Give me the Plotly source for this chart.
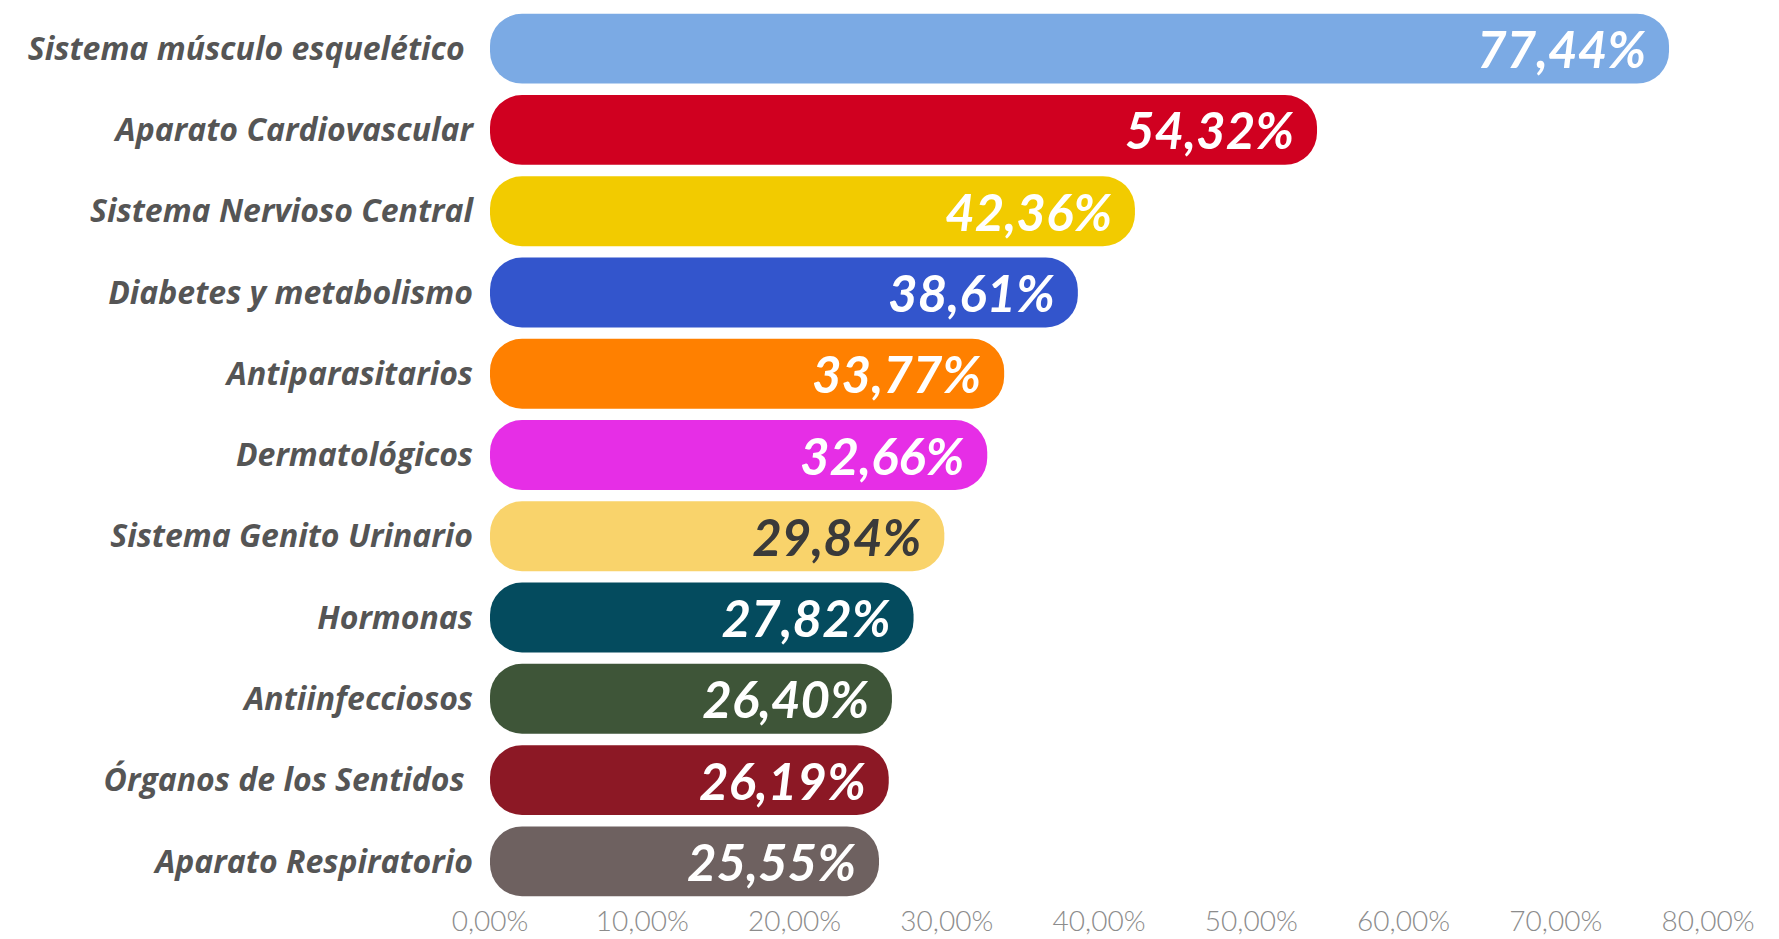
import plotly.graph_objects as go

categories = [
    "Sistema músculo esquelético ",
    "Aparato Cardiovascular",
    "Sistema Nervioso Central",
    "Diabetes y metabolismo",
    "Antiparasitarios",
    "Dermatológicos",
    "Sistema Genito Urinario",
    "Hormonas",
    "Antiinfecciosos",
    "Órganos de los Sentidos ",
    "Aparato Respiratorio",
]
values = [77.44, 54.32, 42.36, 38.61, 33.77, 32.66, 29.84, 27.82, 26.40, 26.19, 25.55]
colors = ["#7BAAE4", "#D00020", "#F2CB00", "#3355CC", "#FF8000", "#E62EE6",
          "#F9D36B", "#044B5E", "#3E5538", "#8C1825", "#6E6160"]
text_colors = ["#FFFFFF"] * 6 + ["#3A3A3A"] + ["#FFFFFF"] * 4
labels = [f"{v:.2f}%".replace(".", ",") for v in values]
x_ticks = [0, 10, 20, 30, 40, 50, 60, 70, 80]
x_tick_text = [f"{t:.2f}%".replace(".", ",") for t in x_ticks]

fig = go.Figure()
# an explicit base makes plotly round both ends of each bar (pill shape)
fig.add_trace(go.Bar(
    y=categories, x=values, base=[0] * len(values), orientation="h",
    marker=dict(color=colors, cornerradius=32, line=dict(width=0)),
    text=labels, textposition="inside", insidetextanchor="end", textangle=0,
    textfont=dict(family="Lato", size=51, color=text_colors, weight="bold", style="italic"),
    hoverinfo="skip", showlegend=False,
))

fig.update_layout(
    width=1779, height=939,
    margin=dict(l=482, r=79, t=0, b=45),
    bargap=0.14,
    paper_bgcolor="white", plot_bgcolor="white",
    xaxis=dict(range=[0, 80], tickvals=x_ticks, ticktext=x_tick_text,
               showgrid=False, zeroline=False, showline=False, ticks="",
               tickfont=dict(family="Lato", size=28, color="#8C8C8C", weight=300)),
    yaxis=dict(autorange="reversed", showgrid=False, zeroline=False, showline=False,
               ticks="", ticklabelstandoff=16,
               tickfont=dict(family="Open Sans", size=32, color="#555555", weight="bold", style="italic")),
)

fig.write_html("out.html")
